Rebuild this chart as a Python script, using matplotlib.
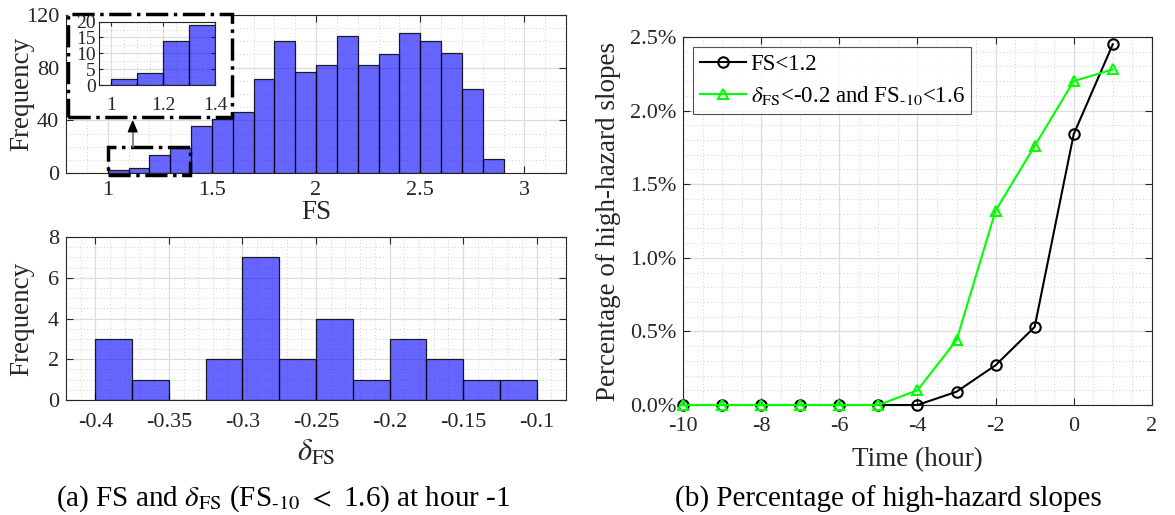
import numpy as np
import matplotlib.pyplot as plt
from matplotlib.patches import Rectangle
from matplotlib.ticker import MultipleLocator, FuncFormatter

plt.rcParams['font.family'] = ['Liberation Serif', 'DejaVu Serif']
plt.rcParams['mathtext.fontset'] = 'stix'

# FS histogram at hour -1 (bin width 0.1)
fs_bin_left = [1.0, 1.1, 1.2, 1.3, 1.4, 1.5, 1.6, 1.7, 1.8, 1.9,
               2.0, 2.1, 2.2, 2.3, 2.4, 2.5, 2.6, 2.7, 2.8]
fs_counts = [2, 4, 14, 19, 36, 41, 46, 71, 100, 77,
             82, 104, 82, 90, 106, 100, 91, 64, 11]
fs_width = 0.1

# delta_FS histogram (bin width 0.025)
d_bin_left = [-0.4, -0.375, -0.35, -0.325, -0.3, -0.275,
              -0.25, -0.225, -0.2, -0.175, -0.15, -0.125]
d_counts = [3, 1, 0, 2, 7, 2, 4, 1, 3, 2, 1, 1]
d_width = 0.025

# percentage of high-hazard slopes (%)
hours = [-10, -9, -8, -7, -6, -5, -4, -3, -2, -1, 0, 1]
pct_fs = [0, 0, 0, 0, 0, 0, 0, 0.09, 0.27, 0.53, 1.84, 2.45]
pct_delta = [0, 0, 0, 0, 0, 0, 0.10, 0.44, 1.32, 1.76, 2.20, 2.28]

TXT = '#262626'
BAR = (0.0, 0.0, 1.0, 0.6)      # MATLAB-like blue, FaceAlpha 0.6
BAR_EDGE = (0.0, 0.0, 0.0, 0.85)
TICK_FS = 16
LAB_FS = 19.5


def matlab_style(ax, xminor, yminor, fs=TICK_FS):
    ax.xaxis.set_minor_locator(MultipleLocator(xminor))
    ax.yaxis.set_minor_locator(MultipleLocator(yminor))
    ax.grid(which='major', color='#dcdcdc', lw=0.9, ls='-')
    ax.grid(which='minor', color='#cfcfcf', lw=0.7, ls=(0, (1, 2.5)))
    ax.set_axisbelow(True)
    ax.tick_params(which='both', direction='in', top=True, right=True,
                   colors=TXT, labelsize=fs, length=5, width=0.8)
    ax.tick_params(axis='x', which='major', pad=9)
    ax.tick_params(axis='y', which='major', pad=5)
    ax.tick_params(which='minor', length=0)
    for s in ax.spines.values():
        s.set_color(TXT)
        s.set_linewidth(0.8)


fig = plt.figure(figsize=(11.75, 5.15), dpi=100)

# ---- (a) top: FS histogram ----
ax1 = fig.add_axes([0.0562, 0.664, 0.4255, 0.307])
ax1.bar(fs_bin_left, fs_counts, width=fs_width, align='edge',
        color=BAR, edgecolor=BAR_EDGE, linewidth=0.9)
ax1.set_xlim(0.8, 3.2)
ax1.set_ylim(0, 120)
ax1.set_xticks([1, 1.5, 2, 2.5, 3])
ax1.set_xticklabels(['1', '1.5', '2', '2.5', '3'])
ax1.set_yticks([0, 40, 80, 120])
matlab_style(ax1, 0.1, 10)
ax1.tick_params(axis='x', which='major', pad=6)
ax1.set_xlabel('FS', fontsize=LAB_FS, color=TXT, labelpad=0)
ax1.set_ylabel('Frequency', fontsize=LAB_FS, color=TXT)
ax1.yaxis.set_label_coords(-0.064, 0.5)

# white dash-dot box behind the inset
ax1.add_patch(Rectangle((0.81, 42.7), 0.787, 77.8, facecolor='white',
                        edgecolor='black', ls='-.', lw=2.5, zorder=3,
                        clip_on=False))
# small box around the zoomed bars
ax1.add_patch(Rectangle((1.0, -1.2), 0.395, 21.3, fill=False,
                        edgecolor='black', ls='-.', lw=2.5, zorder=3,
                        clip_on=False))
ax1.plot([1.12, 1.12], [20.1, 36], color='#707070', lw=1.2, zorder=3)
ax1.annotate('', xy=(1.12, 42.5), xytext=(1.12, 35),
             arrowprops=dict(arrowstyle='-|>,head_length=0.7,head_width=0.3',
                             color='black', lw=1.2), zorder=4)

axin = ax1.inset_axes([0.957, 66.5, 0.56, 48.5], transform=ax1.transData)
axin.set_zorder(5)
axin.bar(fs_bin_left[:4], fs_counts[:4], width=fs_width, align='edge',
         color=BAR, edgecolor=BAR_EDGE, linewidth=0.9)
axin.set_xlim(0.954, 1.4)
axin.set_ylim(0, 20)
axin.set_xticks([1, 1.2, 1.4])
axin.set_xticklabels(['1', '1.2', '1.4'])
axin.set_yticks([0, 5, 10, 15, 20])
matlab_style(axin, 0.05, 2.5, fs=14)
axin.tick_params(which='major', length=3)
axin.tick_params(axis='x', which='major', pad=8)
axin.tick_params(axis='y', which='major', pad=2)
axin.set_facecolor('white')

# ---- (a) bottom: delta_FS histogram ----
ax2 = fig.add_axes([0.0562, 0.2233, 0.4255, 0.3165])
ax2.bar(d_bin_left, d_counts, width=d_width, align='edge',
        color=BAR, edgecolor=BAR_EDGE, linewidth=0.9)
ax2.set_xlim(-0.42, -0.08)
ax2.set_ylim(0, 8)
ax2.set_xticks([-0.4, -0.35, -0.3, -0.25, -0.2, -0.15, -0.1])
ax2.set_xticklabels(['-0.4', '-0.35', '-0.3', '-0.25', '-0.2', '-0.15', '-0.1'])
ax2.set_yticks([0, 2, 4, 6, 8])
matlab_style(ax2, 0.01, 0.5)
ax2.set_xlabel(r'$\delta_{\mathrm{FS}}$', fontsize=22, color=TXT, labelpad=5)
ax2.set_ylabel('Frequency', fontsize=LAB_FS, color=TXT)
ax2.yaxis.set_label_coords(-0.064, 0.5)

# ---- (b) percentage of high-hazard slopes ----
ax3 = fig.add_axes([0.5813, 0.2136, 0.399, 0.7146])
ax3.plot(hours, pct_fs, color='black', lw=1.5, marker='o', ms=7.5,
         mfc='none', mew=1.5, label='FS<1.2', clip_on=False, zorder=4)
ax3.plot(hours, pct_delta, color=(0, 1, 0), lw=1.5, marker='^', ms=7.5,
         mfc='none', mew=1.5,
         label=r'$\delta_{\mathrm{FS}}$<-0.2 and FS$_{\text{-10}}$<1.6',
         clip_on=False, zorder=5)
ax3.set_xlim(-10, 2)
ax3.set_ylim(0, 2.5)
ax3.set_xticks([-10, -8, -6, -4, -2, 0, 2])
ax3.set_xticklabels(['-10', '-8', '-6', '-4', '-2', '0', '2'])
ax3.set_yticks([0, 0.5, 1.0, 1.5, 2.0, 2.5])
ax3.yaxis.set_major_formatter(FuncFormatter(lambda v, p: '%.1f%%' % v))
matlab_style(ax3, 0.5, 0.1)
ax3.set_xlabel('Time (hour)', fontsize=LAB_FS, color=TXT, labelpad=8)
ax3.set_ylabel('Percentage of high-hazard slopes', fontsize=LAB_FS,
               color=TXT, labelpad=6)
leg = ax3.legend(loc='upper left', fontsize=16.5, frameon=True, fancybox=False,
                 edgecolor=TXT, handlelength=2.0, handletextpad=0.2,
                 borderpad=0.3, labelspacing=0.4, borderaxespad=0.45)
leg.get_frame().set_linewidth(0.8)

# captions
fig.text(0.434, 0.031,
         r'(a) FS and $\delta_{\mathrm{FS}}$ (FS$_{\text{-10}}$ $<$ 1.6) at hour -1',
         ha='right', va='center', fontsize=21, color='black')
fig.text(0.756, 0.031, '(b) Percentage of high-hazard slopes',
         ha='center', va='center', fontsize=21, color='black')

fig.savefig('out.png', dpi=100)
